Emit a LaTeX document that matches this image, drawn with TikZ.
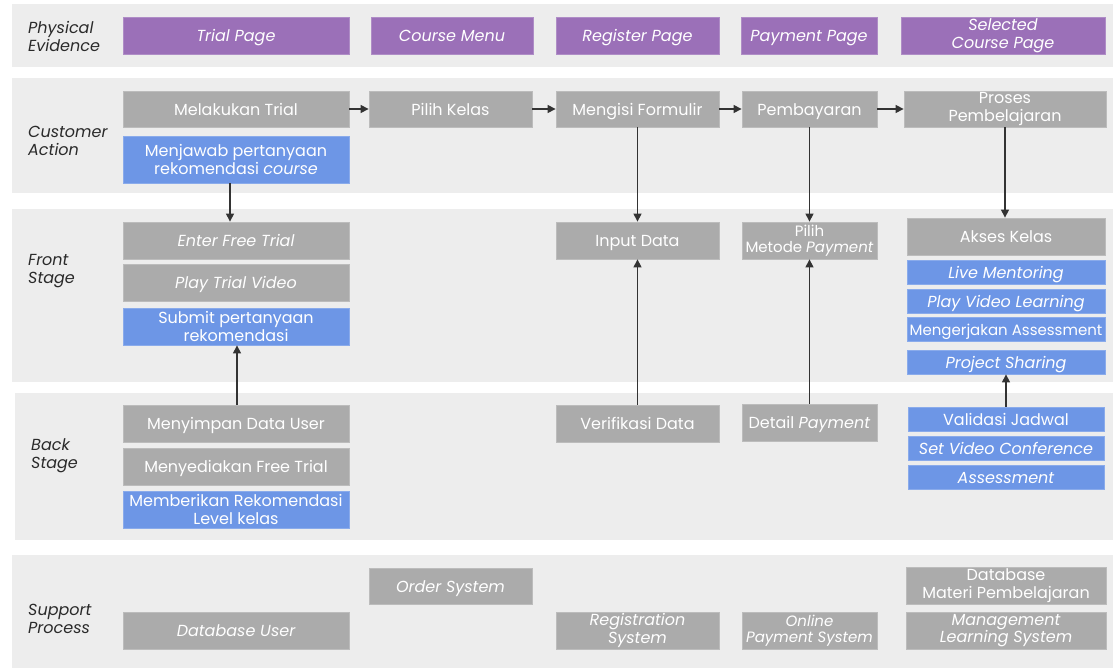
\documentclass[tikz,border=0pt]{standalone}
\usepackage{fontspec}
\setmainfont{Poppins}
\usetikzlibrary{arrows.meta}
\definecolor{band}{HTML}{EDEDED}
\definecolor{boxgray}{HTML}{ABABAB}
\definecolor{boxpurple}{HTML}{9B70B8}
\definecolor{boxblue}{HTML}{6D96E6}
\definecolor{ink}{HTML}{2A2A2A}
\definecolor{arrowc}{HTML}{333333}
\begin{document}
\begin{tikzpicture}[x=1pt,y=-1pt,
  basebox/.style={rectangle, inner sep=0pt, text=white, align=center,
    font=\fontsize{16}{17.5}\selectfont, line width=0.8pt},
  one/.style={text height=12.4pt, text depth=0pt},
  small/.style={font=\fontsize{15}{16.5}\selectfont},
  gbox/.style={basebox, fill=boxgray, draw=boxgray!80!white},
  pbox/.style={basebox, fill=boxpurple, draw=boxpurple!80!white},
  bbox/.style={basebox, fill=boxblue, draw=boxblue!80!white},
  lane/.style={anchor=west, align=left, text=ink, inner sep=0pt,
    font=\fontsize{16}{18}\selectfont\itshape},
  arr/.style={draw=arrowc, line width=1.2pt, -{Triangle[length=8pt,width=8pt]}}
]
\useasboundingbox (0,0) rectangle (1113,668);
% bands
\fill[band] (12,4) rectangle (1113,67);
\fill[band] (12,78) rectangle (1113,193);
\fill[band] (12,209) rectangle (1113,382);
\fill[band] (15,393) rectangle (1113,540);
\fill[band] (12,555) rectangle (1113,668);
% lane labels
\node[lane] (l1) at (28,36.5) {Physical\\Evidence};
\node[lane] (l2) at (28,140.5) {Customer\\Action};
\node[lane] (l3) at (28,271.5) {Front\\Stage};
\node[lane] (l4) at (31,455.5) {Back\\Stage};
\node[lane] (l5) at (28,618.5) {Support\\Process};
% physical evidence
\node[pbox, one, minimum width=226, minimum height=37] (pe1) at (236,35.5) {\itshape Trial Page};
\node[pbox, one, minimum width=162, minimum height=37] (pe2) at (452,35.5) {\itshape Course Menu};
\node[pbox, one, minimum width=163, minimum height=37] (pe3) at (637.5,35.5) {\itshape Register Page};
\node[pbox, one, minimum width=136, minimum height=37] (pe4) at (809,35.5) {\itshape Payment Page};
\node[pbox, minimum width=204, minimum height=37] (pe5) at (1003,35.5) {\itshape Selected\\\itshape Course Page};
% customer action
\node[gbox, one, minimum width=226, minimum height=36] (ca1) at (236,109) {Melakukan Trial};
\node[gbox, one, minimum width=163, minimum height=36] (ca2) at (450.5,109) {Pilih Kelas};
\node[gbox, one, minimum width=163, minimum height=36] (ca3) at (637.5,109) {Mengisi Formulir};
\node[gbox, one, minimum width=135, minimum height=36] (ca4) at (809.5,109) {Pembayaran};
\node[gbox, minimum width=202, minimum height=36] (ca5) at (1005,109) {Proses\\Pembelajaran};
\node[bbox, minimum width=226, minimum height=47] (ca6) at (236,159.5) {Menjawab pertanyaan\\rekomendasi \textit{course}};
% front stage
\node[gbox, one, minimum width=226, minimum height=37] (fs1) at (236,240.5) {\itshape Enter Free Trial};
\node[gbox, one, minimum width=226, minimum height=37] (fs2) at (236,282.5) {\itshape Play Trial Video};
\node[bbox, minimum width=226, minimum height=37] (fs3) at (236,326.5) {Submit pertanyaan\\rekomendasi};
\node[gbox, one, minimum width=163, minimum height=37] (fs4) at (637.5,240.5) {Input Data};
\node[gbox, small, minimum width=135, minimum height=37] (fs5) at (809.5,240.5) {Pilih\\Metode \textit{Payment}};
\node[gbox, one, minimum width=198, minimum height=37] (fs6) at (1006,236.5) {Akses Kelas};
\node[bbox, one, minimum width=198, minimum height=24] (fs7) at (1006,272) {\itshape Live Mentoring};
\node[bbox, one, minimum width=198, minimum height=24] (fs8) at (1006,301) {\itshape Play Video Learning};
\node[bbox, one, small, minimum width=198, minimum height=24] (fs9) at (1006,329.5) {Mengerjakan Assessment};
\node[bbox, one, minimum width=198, minimum height=24] (fs10) at (1006,362) {\itshape Project Sharing};
% back stage
\node[gbox, one, minimum width=226, minimum height=37] (bs1) at (236,423.5) {Menyimpan Data User};
\node[gbox, one, minimum width=226, minimum height=37] (bs2) at (236,466.5) {Menyediakan Free Trial};
\node[bbox, minimum width=226, minimum height=37] (bs3) at (236,509.5) {Memberikan Rekomendasi\\Level kelas};
\node[gbox, one, minimum width=163, minimum height=37] (bs4) at (637.5,423.5) {Verifikasi Data};
\node[gbox, one, minimum width=135, minimum height=37] (bs5) at (809.5,422.5) {Detail \textit{Payment}};
\node[bbox, one, minimum width=196, minimum height=24] (bs6) at (1006,419) {Validasi Jadwal};
\node[bbox, one, minimum width=196, minimum height=24] (bs7) at (1006,448) {\itshape Set Video Conference};
\node[bbox, one, minimum width=196, minimum height=24] (bs8) at (1006,477) {\itshape Assessment};
% support process
\node[gbox, one, minimum width=163, minimum height=36] (sp1) at (450.5,586) {\itshape Order System};
\node[gbox, one, minimum width=226, minimum height=37] (sp2) at (236,630.5) {\itshape Database User};
\node[gbox, minimum width=163, minimum height=37] (sp3) at (637.5,630.5) {\itshape Registration\\\itshape System};
\node[gbox, small, minimum width=135, minimum height=37] (sp4) at (809.5,630.5) {\itshape Online\\\itshape Payment System};
\node[gbox, minimum width=200, minimum height=37] (sp5) at (1006,585.5) {Database\\Materi Pembelajaran};
\node[gbox, minimum width=200, minimum height=37] (sp6) at (1006,630.5) {\itshape Management\\\itshape Learning System};
% connectors
\draw[arr] (ca1.east) -- (ca2.west);
\draw[arr] (ca2.east) -- (ca3.west);
\draw[arr] (ca3.east) -- (ca4.west);
\draw[arr] (ca4.east) -- (ca5.west);
\draw[arr] ([xshift=-6pt]ca6.south) -- ([xshift=-6pt]fs1.north);
\draw[arr] (ca3.south) -- (fs4.north);
\draw[arr] (ca4.south) -- (fs5.north);
\draw[arr] (ca5.south) -- (ca5.south |- fs6.north);
\draw[arr] ([xshift=1pt]bs1.north) -- ([xshift=1pt]fs3.south);
\draw[arr] (bs4.north) -- (fs4.south);
\draw[arr] (bs5.north) -- (fs5.south);
\draw[arr] (bs6.north) -- (fs10.south);
\end{tikzpicture}
\end{document}
